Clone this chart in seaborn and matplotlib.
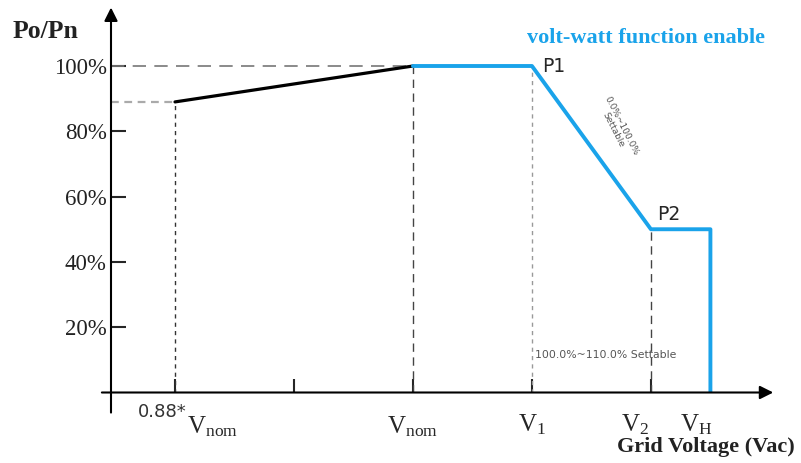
import numpy as np
import pandas as pd
import seaborn as sns
import matplotlib.pyplot as plt

# data
volt_base = [0.88, 1.00]
power_base = [89, 100]
volt_vw = [1.00, 1.06, 1.12, 1.15, 1.15]
power_vw = [100, 100, 50, 50, 0]
y_ticks = [20, 40, 60, 80, 100]
y_labels = ['20%', '40%', '60%', '80%', '100%']
x_ticks = [0.88, 0.94, 1.00, 1.06, 1.12]
v_nom_low, v_nom, v1, v2, vh = 0.88, 1.00, 1.06, 1.12, 1.15
p_low, p_max, p2 = 89, 100, 50

sns.set_style('white')
plt.rcParams['font.family'] = ['Liberation Serif', 'DejaVu Serif']
plt.rcParams['mathtext.fontset'] = 'custom'
plt.rcParams['mathtext.rm'] = 'Liberation Serif'
plt.rcParams['mathtext.it'] = 'Liberation Serif'

W, H = 801, 463
fig = plt.figure(figsize=(W / 100, H / 100), dpi=100)
# axes box in pixels: x 111..780, y 8..392.5
ax = fig.add_axes([111 / W, (H - 392.5) / H, (780 - 111) / W, (392.5 - 8) / H])
px_x = 1983.0   # pixels per unit voltage
px_y = 3.265    # pixels per percent
xmin = 0.88 - (175 - 111) / px_x
xmax = 0.88 + (780 - 175) / px_x
ymax = (392.5 - 8) / px_y
ax.set_xlim(xmin, xmax)
ax.set_ylim(0, ymax)
for s in ax.spines.values():
    s.set_visible(False)

blue = '#1AA3EA'

# guide lines
ax.plot([xmin, v_nom], [p_max, p_max], color='#777777', lw=1.2, ls=(0, (8, 5)))
ax.plot([xmin, v_nom_low], [p_low, p_low], color='#aaaaaa', lw=1.6, ls=(0, (3.5, 2.5)))
ax.plot([v_nom_low, v_nom_low], [0, p_low], color='#333333', lw=1.0, ls=(0, (3, 3)))
ax.plot([v_nom, v_nom], [0, p_max], color='#444444', lw=1.0, ls=(0, (6, 4)))
ax.plot([v1, v1], [0, p_max], color='#999999', lw=1.0, ls=(0, (3, 3)))
ax.plot([v2, v2], [0, p2], color='#444444', lw=1.0, ls=(0, (6, 4)))

# curves
sns.lineplot(x=volt_base, y=power_base, color='black', lw=2.3, ax=ax,
             estimator=None, sort=False)
sns.lineplot(x=volt_vw, y=power_vw, color=blue, lw=2.8, ax=ax,
             estimator=None, sort=False)

# axis arrows
ax.annotate('', xy=(xmin, ymax + 1), xytext=(xmin, -7),
            arrowprops=dict(arrowstyle='-|>', mutation_scale=20, lw=1.5, color='black'),
            annotation_clip=False)
ax.annotate('', xy=(xmax - 0.002, 0), xytext=(xmin - 0.006, 0),
            arrowprops=dict(arrowstyle='-|>', mutation_scale=20, lw=1.5, color='black'),
            annotation_clip=False)

# ticks
ax.set_yticks(y_ticks)
ax.set_yticklabels(y_labels, fontsize=16.5, color='#222222')
ax.tick_params(axis='y', direction='in', length=11, width=1.5, pad=3, left=True)
ax.set_xticks(x_ticks)
ax.set_xticklabels([])
ax.tick_params(axis='x', direction='in', length=10, width=1.5, bottom=True)

# x labels
ly = -9
ax.text(v_nom_low + 0.006, ly + 3, '0.88*', family=['DejaVu Sans'], fontsize=13,
        color='#333333', ha='right', va='center', clip_on=False)
ax.text(v_nom_low + 0.006, ly - 1.5, r'$\mathrm{V_{nom}}$', fontsize=18,
        ha='left', va='center', clip_on=False)
ax.text(v_nom - 0.013, ly - 1.5, r'$\mathrm{V_{nom}}$', fontsize=18,
        ha='left', va='center', clip_on=False)
ax.text(v1, ly - 1.0, r'$\mathrm{V_{1}}$', fontsize=18, ha='center', va='center', clip_on=False)
ax.text(v2 - 0.008, ly - 1.0, r'$\mathrm{V_{2}}$', fontsize=18, ha='center', va='center', clip_on=False)
ax.text(vh - 0.007, ly - 1.0, r'$\mathrm{V_{H}}$', fontsize=18, ha='center', va='center', clip_on=False)

# titles / annotations
fig.text(13 / W, 1 - 32 / H, 'Po/Pn', fontsize=18.5, fontweight='bold', color='#222222',
         ha='left', va='center')
fig.text(765 / W, 1 - 38 / H, 'volt-watt function enable', fontsize=16,
         fontweight='bold', color=blue, ha='right', va='center')
fig.text(795 / W, 1 - 447 / H, 'Grid Voltage (Vac)', fontsize=16, fontweight='bold',
         color='#222222', ha='right', va='center')
ax.text(v1 + 0.005, p_max, 'P1', family=['DejaVu Sans'], fontsize=13.5, ha='left', va='center')
ax.text(v2 + 0.003, p2 + 4.5, 'P2', family=['DejaVu Sans'], fontsize=13.5, ha='left', va='center')
ax.text(1.103, 81, '0.0%~100.0%\nSettable', family=['DejaVu Sans'], fontsize=6.5,
        color='#555555', rotation=-63, ha='center', va='center', linespacing=1.0)
ax.text(1.097, 11.5, '100.0%~110.0% Settable', family=['DejaVu Sans'], fontsize=7.8,
        color='#555555', ha='center', va='center')

fig.savefig('out.png', dpi=100)
